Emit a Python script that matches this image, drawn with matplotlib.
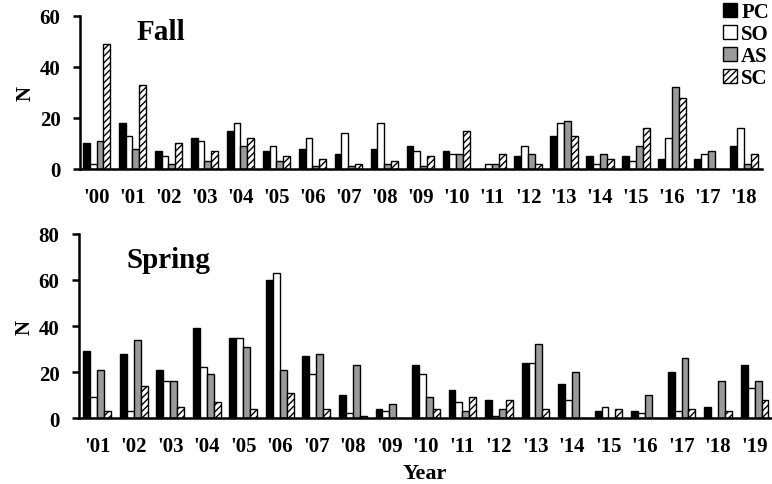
import matplotlib
matplotlib.use("Agg")
import matplotlib.pyplot as plt
import numpy as np

plt.rcParams['font.family'] = ['Liberation Serif', 'DejaVu Serif']
plt.rcParams['font.weight'] = 'bold'
plt.rcParams['hatch.linewidth'] = 1.0

series = ['PC', 'SO', 'AS', 'SC']

fall_years = ["'00", "'01", "'02", "'03", "'04", "'05", "'06", "'07", "'08", "'09",
              "'10", "'11", "'12", "'13", "'14", "'15", "'16", "'17", "'18"]
fall_PC = [10, 18, 7, 12, 15, 7, 8, 6, 8, 9, 7, 0, 5, 13, 5, 5, 4, 4, 9]
fall_SO = [2, 13, 5, 11, 18, 9, 12, 14, 18, 7, 6, 2, 9, 18, 2, 3, 12, 6, 16]
fall_AS = [11, 8, 2, 3, 9, 3, 1, 1, 2, 1, 6, 2, 6, 19, 6, 9, 32, 7, 2]
fall_SC = [49, 33, 10, 7, 12, 5, 4, 2, 3, 5, 15, 6, 2, 13, 4, 16, 28, 0, 6]

spring_years = ["'01", "'02", "'03", "'04", "'05", "'06", "'07", "'08", "'09", "'10",
                "'11", "'12", "'13", "'14", "'15", "'16", "'17", "'18", "'19"]
spring_PC = [29, 28, 21, 39, 35, 60, 27, 10, 4, 23, 12, 8, 24, 15, 3, 3, 20, 5, 23]
spring_SO = [9, 3, 16, 22, 35, 63, 19, 2, 3, 19, 7, 1, 24, 8, 5, 2, 3, 0, 13]
spring_AS = [21, 34, 16, 19, 31, 21, 28, 23, 6, 9, 3, 4, 32, 20, 0, 10, 26, 16, 16]
spring_SC = [3, 14, 5, 7, 4, 11, 4, 1, 0, 4, 9, 8, 4, 0, 4, 0, 4, 3, 8]

styles = {
    'PC': dict(facecolor='black', hatch=None),
    'SO': dict(facecolor='white', hatch=None),
    'AS': dict(facecolor='#9a9a9a', hatch=None),
    'SC': dict(facecolor='white', hatch='/////'),
}

fig = plt.figure(figsize=(7.72, 4.85), dpi=100)
ax1 = fig.add_axes([0.1036, 0.6495, 0.8834, 0.3155])
ax2 = fig.add_axes([0.1023, 0.136, 0.8964, 0.3795])

width = 0.19
TICK = 15

def draw(ax, years, data, ymax, yticks, xlim):
    x = np.arange(len(years))
    handles = []
    for i, (name, vals) in enumerate(zip(series, data)):
        st = styles[name]
        h = ax.bar(x + (i - 1.5) * width, vals, width, facecolor=st['facecolor'],
                   edgecolor='black', linewidth=1.0, hatch=st['hatch'], label=name)
        handles.append(h)
    ax.set_ylim(0, ymax)
    ax.set_xlim(*xlim)
    ax.set_yticks(yticks)
    ax.set_xticks(x)
    ax.set_xticklabels(years)
    for s in ['top', 'right']:
        ax.spines[s].set_visible(False)
    for s in ['left', 'bottom']:
        ax.spines[s].set_linewidth(1.8)
    ax.tick_params(axis='x', length=0, pad=13, labelsize=TICK)
    ax.tick_params(axis='y', length=5, width=1.8, pad=9, labelsize=TICK)
    for lab in ax.get_xticklabels() + ax.get_yticklabels():
        lab.set_fontweight('bold')
    ax.set_ylabel('N', fontsize=15, fontweight='bold', labelpad=3)
    return handles

handles = draw(ax1, fall_years, [fall_PC, fall_SO, fall_AS, fall_SC], 60, [0, 20, 40, 60], (-0.46, 18.5))
draw(ax2, spring_years, [spring_PC, spring_SO, spring_AS, spring_SC], 80, [0, 20, 40, 60, 80], (-0.5, 18.45))

fig.text(137 / 772, 1 - 33 / 485, 'Fall', fontsize=21, fontweight='bold', va='center', ha='left')
fig.text(127 / 772, 1 - 260 / 485, 'Spring', fontsize=21, fontweight='bold', va='center', ha='left')
ax2.set_xlabel('Year', fontsize=16, fontweight='bold', labelpad=5)

fig.legend(handles=handles, labels=series, loc='upper right', bbox_to_anchor=(1.0, 1.0),
           frameon=False, prop={'weight': 'bold', 'size': 15},
           handlelength=0.65, handleheight=0.65, handletextpad=0.2,
           labelspacing=0.1, borderpad=0.15, borderaxespad=0.0)

fig.savefig('out.png', dpi=100)
